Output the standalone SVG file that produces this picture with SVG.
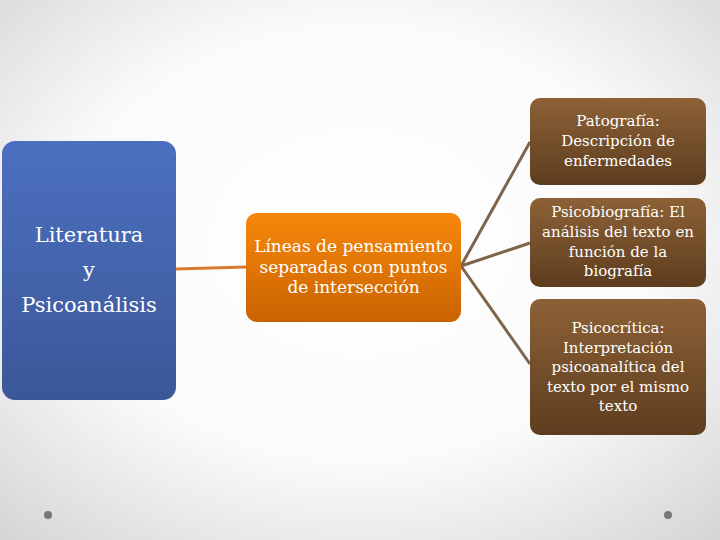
<svg xmlns="http://www.w3.org/2000/svg" width="720" height="540" viewBox="0 0 720 540">
<defs>
<radialGradient id="bg" cx="50%" cy="45%" r="75%">
<stop offset="0" stop-color="#ffffff"/>
<stop offset="0.55" stop-color="#fafafa"/>
<stop offset="1" stop-color="#d4d4d4"/>
</radialGradient>
<linearGradient id="gBlue" x1="0" y1="0" x2="0" y2="1">
<stop offset="0" stop-color="#4c70c0"/>
<stop offset="1" stop-color="#3b5798"/>
</linearGradient>
<linearGradient id="gOrange" x1="0" y1="0" x2="0" y2="1">
<stop offset="0" stop-color="#f8880c"/>
<stop offset="1" stop-color="#c96300"/>
</linearGradient>
<linearGradient id="gBrown" x1="0" y1="0" x2="0" y2="1">
<stop offset="0" stop-color="#8d6136"/>
<stop offset="1" stop-color="#5d3d1f"/>
</linearGradient>
</defs>
<style>
.t{font-family:"DejaVu Serif","Liberation Serif",serif;fill:#ffffff;text-anchor:middle}
.big{font-size:21px}
.mid{font-size:17px}
.sm{font-size:15px}
.c1{stroke:#d9782e;stroke-width:3;fill:none}
.c2{stroke:#7e644b;stroke-width:3;fill:none}
.dot{fill:#777777}
</style>
<rect width="720" height="540" fill="url(#bg)"/>
<circle class="dot" cx="48" cy="515" r="4"/>
<circle class="dot" cx="668" cy="515" r="4"/>
<g id="connectors">
<path class="c1" d="M176,269 L246,267"/>
<path class="c2" d="M461,266 L530,142"/>
<path class="c2" d="M461,266 L530,243"/>
<path class="c2" d="M461,266 L530,364"/>
</g>
<g id="node-literatura">
<rect x="2" y="141" width="174" height="259" rx="13" fill="url(#gBlue)"/>
<text class="t big" x="89" y="242">Literatura</text>
<text class="t big" x="89" y="277">y</text>
<text class="t big" x="89" y="312">Psicoanálisis</text>
</g>
<g id="node-lineas">
<rect x="246" y="213" width="215" height="109" rx="11" fill="url(#gOrange)"/>
<text class="t mid" x="353.5" y="252">Líneas de pensamiento</text>
<text class="t mid" x="353.5" y="272.5">separadas con puntos</text>
<text class="t mid" x="353.5" y="293">de intersección</text>
</g>
<g id="node-patografia">
<rect x="530" y="98" width="176" height="87" rx="10" fill="url(#gBrown)"/>
<text class="t sm" x="618" y="126">Patografía:</text>
<text class="t sm" x="618" y="146">Descripción de</text>
<text class="t sm" x="618" y="166">enfermedades</text>
</g>
<g id="node-psicobiografia">
<rect x="530" y="198" width="176" height="89" rx="10" fill="url(#gBrown)"/>
<text class="t sm" x="618" y="217">Psicobiografía: El</text>
<text class="t sm" x="618" y="237">análisis del texto en</text>
<text class="t sm" x="618" y="257">función de la</text>
<text class="t sm" x="618" y="276">biografía</text>
</g>
<g id="node-psicocritica">
<rect x="530" y="299" width="176" height="136" rx="10" fill="url(#gBrown)"/>
<text class="t sm" x="618" y="333">Psicocrítica:</text>
<text class="t sm" x="618" y="353">Interpretación</text>
<text class="t sm" x="618" y="372">psicoanalítica del</text>
<text class="t sm" x="618" y="392">texto por el mismo</text>
<text class="t sm" x="618" y="411">texto</text>
</g>
</svg>
